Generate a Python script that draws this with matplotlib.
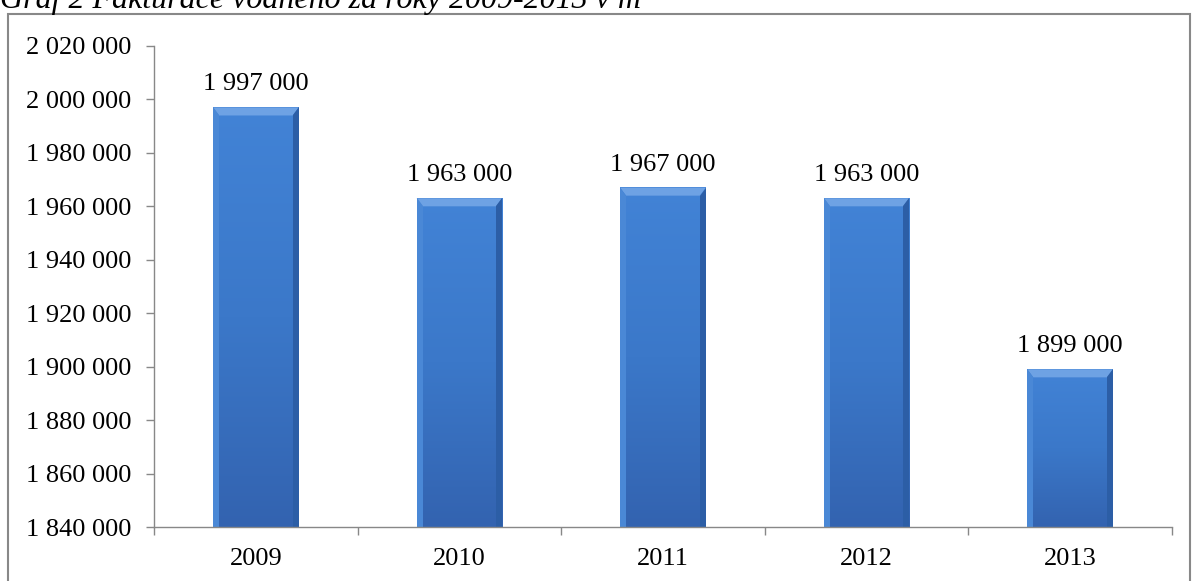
import matplotlib
matplotlib.use("Agg")
import matplotlib.pyplot as plt
import numpy as np
from matplotlib.patches import Rectangle, Polygon
from matplotlib.colors import LinearSegmentedColormap

years = ["2009", "2010", "2011", "2012", "2013"]
values = [1997000, 1963000, 1967000, 1963000, 1899000]
yticks = list(range(1840000, 2020001, 20000))

plt.rcParams['font.family'] = ['Liberation Serif', 'DejaVu Serif']

W, H = 1197, 581
fig = plt.figure(figsize=(W/100, H/100), dpi=100)

# outer frame
fig.patches.append(Rectangle((8/W, -0.05), (1190-8)/W, 1.05 - 14/H, transform=fig.transFigure,
                             fill=False, edgecolor='#888888', linewidth=1.5))
fig.text(0.0, 1 - 8/H, "Graf 2 Fakturace vodného za roky 2009-2013 v m³", fontsize=23,
         style='italic', va='baseline', ha='left')

ax = fig.add_axes([154/W, 1 - 527/H, (1172-154)/W, (527-46)/H])
ymin, ymax = yticks[0], yticks[-1]
ax.set_xlim(-0.5, len(years) - 0.5)
ax.set_ylim(ymin, ymax)

x = list(range(len(years)))
bw = 0.42
bars = ax.bar(x, values, width=bw, color='#3D7DD0', edgecolor='none', linewidth=0, zorder=2)

cmap = LinearSegmentedColormap.from_list('g', ['#3363B0', '#3B78C9', '#4283D6'])
grad = np.linspace(0, 1, 256).reshape(-1, 1)

for b in bars:
    x0, y0 = b.get_x(), b.get_y()
    w, h = b.get_width(), b.get_height()
    top = y0 + h
    yb = max(y0, ymin)
    im = ax.imshow(grad, cmap=cmap, aspect='auto', origin='lower',
                   extent=(x0, x0 + w, yb, top), zorder=2.5)
    dx = w * 0.07
    dy = 3000
    ax.add_patch(Polygon([(x0, top), (x0 + w, top), (x0 + w - dx, top - dy), (x0 + dx, top - dy)],
                         closed=True, facecolor='#6EA2E4', edgecolor='none', zorder=3))
    ax.add_patch(Polygon([(x0 + w, top), (x0 + w, yb), (x0 + w - dx, yb), (x0 + w - dx, top - dy)],
                         closed=True, facecolor='#2C5EA6', edgecolor='none', zorder=3))
    ax.add_patch(Polygon([(x0, top), (x0, yb), (x0 + dx, yb), (x0 + dx, top - dy)],
                         closed=True, facecolor='#4A88D6', edgecolor='none', zorder=3))

for xi, v in zip(x, values):
    ax.text(xi, v + 6400, f"{v:,}".replace(",", " "), ha='center', va='baseline', fontsize=19)

ax.set_xlim(-0.5, len(years) - 0.5)
ax.set_ylim(ymin, ymax)
ax.set_aspect('auto')
ax.set_yticks(yticks)
ax.set_yticklabels([f"{t:,}".replace(",", " ") for t in yticks], fontsize=19)
ax.set_xticks(x)
ax.set_xticklabels(years, fontsize=19)
ax.set_xticks([i - 0.5 for i in range(len(years) + 1)], minor=True)
ax.tick_params(axis='x', which='major', length=0, pad=15)
ax.tick_params(axis='x', which='minor', length=5.5, color='#888888', width=1)
ax.tick_params(axis='y', length=5.5, color='#888888', width=1, pad=11)
for s in ['top', 'right']:
    ax.spines[s].set_visible(False)
for s in ['left', 'bottom']:
    ax.spines[s].set_color('#888888')
    ax.spines[s].set_linewidth(1)
    ax.spines[s].set_zorder(4)

fig.savefig("out.png", dpi=100)
